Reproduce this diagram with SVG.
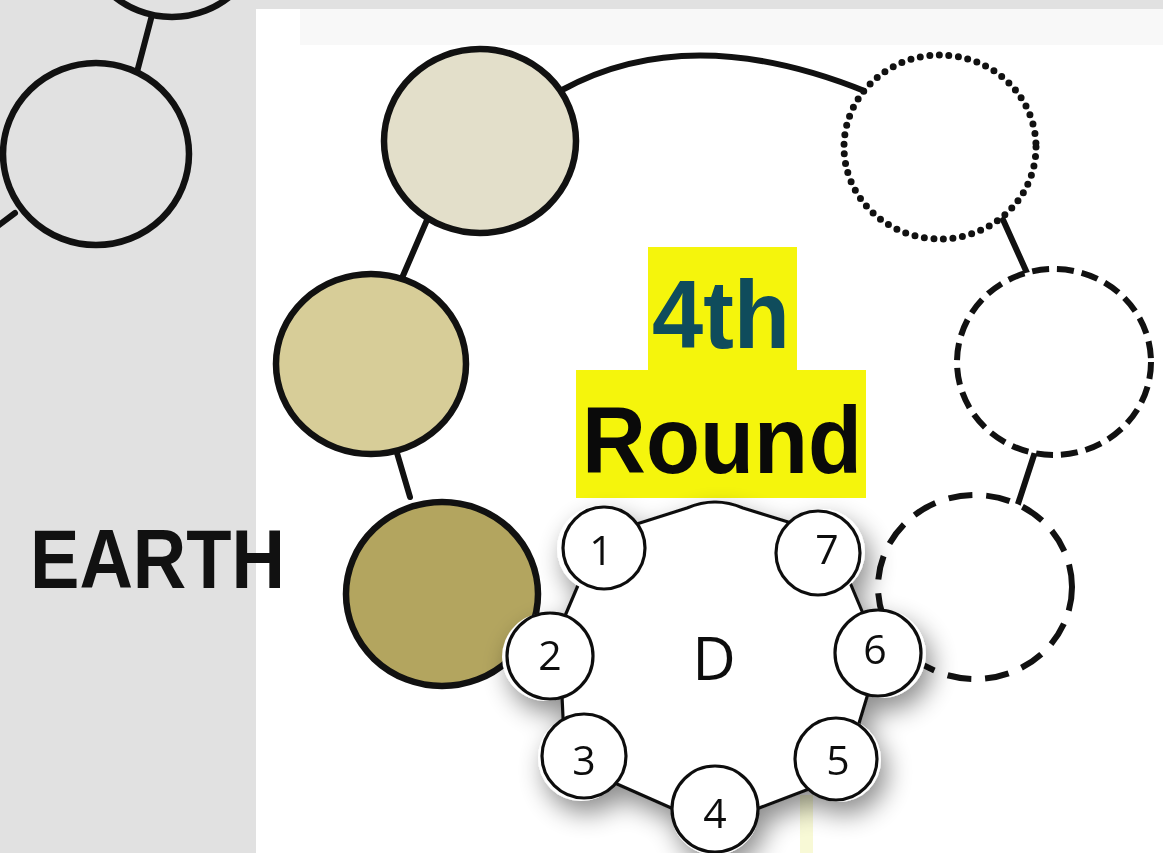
<svg xmlns="http://www.w3.org/2000/svg" width="1163" height="853" viewBox="0 0 1163 853">
<defs>
<style>
.ln{fill:none;stroke:#111;stroke-width:6;stroke-linecap:round}
.big{stroke:#111;stroke-width:6.5}
.dot{fill:#fff;stroke:#111;stroke-width:7;stroke-dasharray:0 9.6;stroke-linecap:round}
.dsh{fill:#fff;stroke:#111;stroke-width:6;stroke-dasharray:17 8}
.dsh2{fill:#fff;stroke:#111;stroke-width:6;stroke-dasharray:24 14}
.sm{fill:#fff;stroke:#111;stroke-width:3.2}
.halo{fill:#fff;stroke:none}
.num{font-family:"Open Sans","Noto Sans","DejaVu Sans",sans-serif;font-size:41px;font-weight:500;fill:#111;text-anchor:middle}
.bold{font-family:"Liberation Sans",Arial,sans-serif;font-weight:bold}
</style>
<filter id="shadow" x="-20%" y="-20%" width="150%" height="150%">
<feGaussianBlur in="SourceAlpha" stdDeviation="13"/>
<feOffset dx="6" dy="12" result="b"/>
<feComponentTransfer><feFuncA type="linear" slope="0.45"/></feComponentTransfer>
<feMerge><feMergeNode/><feMergeNode in="SourceGraphic"/></feMerge>
</filter>
</defs>
<rect x="0" y="0" width="1163" height="853" fill="#e1e1e1"/>
<rect x="256" y="9" width="907" height="844" fill="#ffffff"/>
<rect x="300" y="9" width="863" height="36" fill="#f8f8f8"/>
<rect x="800" y="795" width="13" height="58" fill="#f8f9d6"/>

<g id="connectors">
<line class="ln" x1="152" y1="15" x2="137" y2="72"/>
<line class="ln" x1="15" y1="213" x2="-5" y2="228"/>
<path class="ln" d="M562,90 Q690,20 867,92"/>
<line class="ln" x1="427" y1="220" x2="402" y2="278"/>
<line class="ln" x1="397" y1="453" x2="410" y2="497"/>
<line class="ln" x1="1000" y1="213" x2="1027" y2="273"/>
<line class="ln" x1="1035" y1="452" x2="1017" y2="507"/>
</g>

<g id="left-top-circle"><circle class="big" cx="172" cy="-75" r="92" fill="#e1e1e1"/></g>
<g id="left-circle"><ellipse class="big" cx="96" cy="154" rx="93" ry="91" fill="#e1e1e1"/></g>

<g id="globe-1"><ellipse class="big" cx="480" cy="141" rx="96" ry="92" fill="#e3dfca"/></g>
<g id="globe-2"><ellipse class="big" cx="371" cy="364" rx="95" ry="90" fill="#d7cd98"/></g>
<g id="globe-earth"><ellipse class="big" cx="442" cy="594" rx="96" ry="92" fill="#b3a55f"/></g>
<g id="globe-dotted"><ellipse class="dot" cx="940" cy="147" rx="96" ry="92"/></g>
<g id="globe-dashed"><ellipse class="dsh" cx="1054" cy="362" rx="97" ry="93"/></g>
<g id="globe-dashed-2"><ellipse class="dsh2" cx="975" cy="587" rx="97" ry="92"/></g>

<g id="label-earth"><text class="bold" x="30" y="588" font-size="84" textLength="255" lengthAdjust="spacingAndGlyphs" fill="#111">EARTH</text></g>

<g id="label-round">
<rect x="648" y="247" width="149" height="124" fill="#f5f50c"/>
<rect x="576" y="370" width="290" height="128" fill="#f5f50c"/>
<text class="bold" x="652" y="348" font-size="96" textLength="138" lengthAdjust="spacingAndGlyphs" fill="#0f4c5c">4th</text>
<text class="bold" x="582" y="473" font-size="95" textLength="280" lengthAdjust="spacingAndGlyphs" fill="#0a0a0a">Round</text>
</g>

<g id="d-cluster" filter="url(#shadow)">
<g id="d-body">
<path d="M599,536 L687,508 Q715,496 743,508 L830,535 L880,654 L843,776 L712,826 L565,761 L559,630 Z" fill="#fff" stroke="#111" stroke-width="3.2" stroke-linejoin="round"/>
<text x="714" y="680" font-family="'Open Sans','Noto Sans','DejaVu Sans',sans-serif" font-size="60" fill="#111" text-anchor="middle">D</text>
</g>
<g id="d-1"><circle class="halo" cx="600" cy="549" r="43"/><circle class="sm" cx="604" cy="548" r="41"/><text class="num" x="601" y="565">1</text></g>
<g id="d-7"><circle class="halo" cx="822" cy="552" r="43"/><circle class="sm" cx="818" cy="553" r="42"/><text class="num" x="827" y="564">7</text></g>
<g id="d-2"><circle class="halo" cx="546" cy="657" r="44"/><circle class="sm" cx="550" cy="656" r="43"/><text class="num" x="550" y="670">2</text></g>
<g id="d-6"><circle class="halo" cx="882" cy="654" r="44"/><circle class="sm" cx="878" cy="653" r="43"/><text class="num" x="875" y="664">6</text></g>
<g id="d-3"><circle class="halo" cx="581" cy="758" r="43"/><circle class="sm" cx="584" cy="756" r="42"/><text class="num" x="584" y="775">3</text></g>
<g id="d-5"><circle class="halo" cx="839" cy="760" r="42"/><circle class="sm" cx="836" cy="759" r="41"/><text class="num" x="838" y="775">5</text></g>
<g id="d-4"><circle class="halo" cx="715" cy="811" r="44"/><circle class="sm" cx="715" cy="809" r="43"/><text class="num" x="715" y="828">4</text></g>
</g>
</svg>
